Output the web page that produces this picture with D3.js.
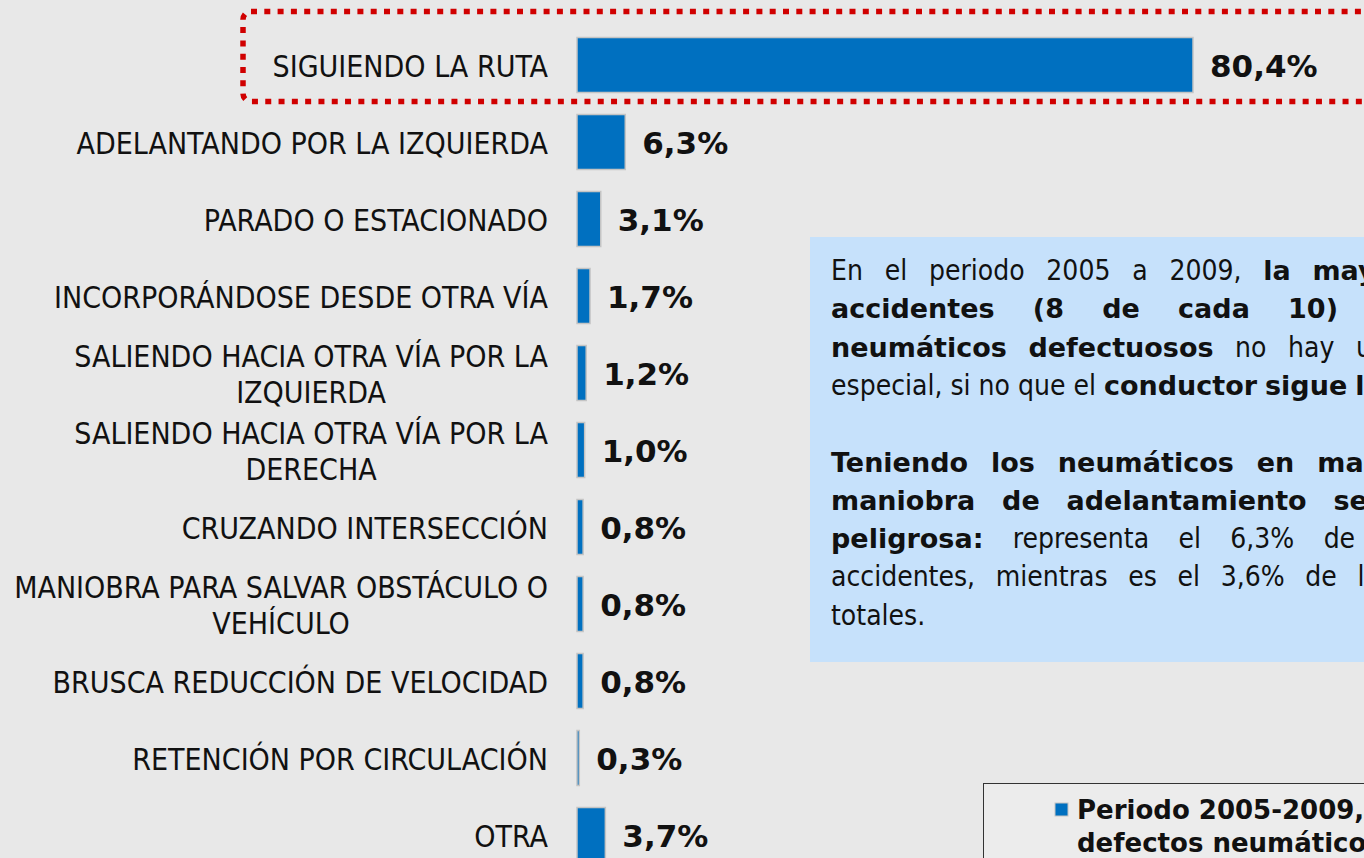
<!DOCTYPE html>
<html><head><meta charset="utf-8">
<script src="https://cdn.jsdelivr.net/npm/d3@7"></script>
<style>html,body{margin:0;padding:0;background:#e8e8e8;overflow:hidden}</style>
</head><body><svg id="c" width="1364" height="858"></svg>
<script>
// ---- data ----
const categories = [
  "SIGUIENDO LA RUTA",
  "ADELANTANDO POR LA IZQUIERDA",
  "PARADO O ESTACIONADO",
  "INCORPORÁNDOSE DESDE OTRA VÍA",
  "SALIENDO HACIA OTRA VÍA POR LA IZQUIERDA",
  "SALIENDO HACIA OTRA VÍA POR LA DERECHA",
  "CRUZANDO INTERSECCIÓN",
  "MANIOBRA PARA SALVAR OBSTÁCULO O VEHÍCULO",
  "BRUSCA REDUCCIÓN DE VELOCIDAD",
  "RETENCIÓN POR CIRCULACIÓN",
  "OTRA"
];
const values = [80.4, 6.3, 3.1, 1.7, 1.2, 1.0, 0.8, 0.8, 0.8, 0.3, 3.7];
const highlightedCategory = "SIGUIENDO LA RUTA";
const legendLines = ["Periodo 2005-2009, accidentes con", "defectos neumáticos"];
// note text: each line = list of [text, bold]; "end" lines are not justified
const noteLines = [
  {segs: [["En el periodo 2005 a 2009, ", 0], ["la mayoría de los", 1]], right: 1560},
  {segs: [["accidentes (8 de cada 10) con", 1]], right: 1430},
  {segs: [["neumáticos defectuosos", 1], [" no hay una maniobra", 0]], right: 1545},
  {segs: [["especial, si no que el ", 0], ["conductor sigue la ruta.", 1]], end: true},
  null,
  {segs: [["Teniendo los neumáticos en mal estado, la", 1]], right: 1560},
  {segs: [["maniobra de adelantamiento se vuelve", 1]], right: 1495},
  {segs: [["peligrosa:", 1], [" representa el 6,3% de los", 0]], right: 1420},
  {segs: [["accidentes, mientras es el 3,6% de los", 0]], right: 1393},
  {segs: [["totales.", 0]], end: true}
];

// ---- layout ----
const W = 1364, H = 858;
const svg = d3.select("#c");
svg.append("rect").attr("width", W).attr("height", H).attr("fill", "#e8e8e8");

const y = d3.scaleBand().domain(categories).range([26.5, 873.5]).paddingInner(0.286).paddingOuter(0.143);
const x = d3.scaleLinear().domain([0, 80.4]).range([577, 1193]);
const BLUE = "#0070c0";
const condFont = "'DejaVu Sans Condensed', 'DejaVu Sans', sans-serif";
const boldFont = "'DejaVu Sans', sans-serif";

// highlight dotted box
const hy = y(highlightedCategory);
svg.append("rect")
  .attr("x", 243).attr("y", hy - 26).attr("width", 1300).attr("height", y.bandwidth() + 35)
  .attr("rx", 8).attr("fill", "none").attr("stroke", "#d00000")
  .attr("stroke-width", 5.5).attr("stroke-dasharray", "6 7.3");

// bars
svg.append("g").selectAll("rect").data(values).join("rect")
  .attr("x", x(0)).attr("y", (d, i) => y(categories[i]))
  .attr("width", d => x(d) - x(0)).attr("height", y.bandwidth())
  .attr("fill", BLUE).attr("stroke", "#c4c4c4").attr("stroke-width", 1.5);

// value labels
const fmt = d => d3.format(".1f")(d).replace(".", ",") + "%";
svg.append("g").selectAll("text").data(values).join("text")
  .attr("x", d => x(d) + 17).attr("y", (d, i) => y(categories[i]) + y.bandwidth() / 2 + 1)
  .attr("dominant-baseline", "central")
  .attr("font-family", boldFont).attr("font-weight", "bold")
  .attr("font-size", 31).attr("fill", "#111").text(fmt);

// category labels (wrapped, centered block, right edge at 548)
const labelSize = 30;
const labelG = svg.append("g").attr("font-family", condFont).attr("font-size", labelSize).attr("fill", "#111");
const measurer = svg.append("text").attr("font-family", condFont).attr("font-size", labelSize).attr("visibility", "hidden");
function tw(t) { measurer.text(t); return measurer.node().getComputedTextLength(); }
const maxLabelW = 545, rightEdge = 548, lineH = 36;
categories.forEach(c => {
  const words = c.split(" ");
  const lines = []; let cur = "";
  words.forEach(w => {
    const test = cur ? cur + " " + w : w;
    if (tw(test) > maxLabelW && cur) { lines.push(cur); cur = w; } else cur = test;
  });
  lines.push(cur);
  const wMax = d3.max(lines, tw);
  const cx = rightEdge - wMax / 2;
  const cy = y(c) + y.bandwidth() / 2;
  lines.forEach((l, j) => {
    labelG.append("text").attr("x", cx).attr("text-anchor", "middle")
      .attr("y", cy + (j - (lines.length - 1) / 2) * lineH + 1)
      .attr("dominant-baseline", "central").text(l);
  });
});

// note box
const noteX = 810, noteY = 237, noteW = 700, noteH = 425;
svg.append("rect").attr("x", noteX).attr("y", noteY).attr("width", noteW).attr("height", noteH).attr("fill", "#c6e1fb");
const regSize = 28, boldSize = 27, textLeft = 831, noteLineH = 38.3, firstBase = 280;
const fontOf = b => b ? boldFont : condFont;
const sizeOf = b => b ? boldSize : regSize;
const nm = svg.append("text").attr("visibility", "hidden");
function nw(t, b) {
  nm.attr("font-family", fontOf(b)).attr("font-size", sizeOf(b)).attr("font-weight", b ? "bold" : "normal").text(t);
  return nm.node().getComputedTextLength();
}
const spaceW = nw("a a", 0) - 2 * nw("a", 0);
const noteG = svg.append("g").attr("fill", "#111");
noteLines.forEach((ln, i) => {
  if (!ln) return;
  const words = [];
  ln.segs.forEach(([t, b]) => t.split(" ").filter(s => s.length).forEach(s => words.push({t: s, b})));
  words.forEach(w => w.w = nw(w.t, w.b));
  const total = d3.sum(words, w => w.w);
  const gap = ln.end || words.length < 2 ? spaceW : (ln.right - textLeft - total) / (words.length - 1);
  let cx = textLeft;
  const by = firstBase + i * noteLineH;
  words.forEach(w => {
    noteG.append("text").attr("x", cx).attr("y", by)
      .attr("font-family", fontOf(w.b)).attr("font-size", sizeOf(w.b))
      .attr("font-weight", w.b ? "bold" : "normal").text(w.t);
    cx += w.w + gap;
  });
});

// legend
const lg = svg.append("g");
lg.append("rect").attr("x", 983.5).attr("y", 783.5).attr("width", 500).attr("height", 120)
  .attr("fill", "#ececec").attr("stroke", "#333").attr("stroke-width", 1);
lg.append("rect").attr("x", 1055).attr("y", 803).attr("width", 13).attr("height", 13)
  .attr("fill", BLUE).attr("stroke", "#c4c4c4").attr("stroke-width", 1);
legendLines.forEach((t, i) => {
  lg.append("text").attr("x", 1077).attr("y", 819 + i * 33)
    .attr("font-family", boldFont).attr("font-weight", "bold").attr("font-size", 26)
    .attr("fill", "#111").text(t);
});
</script></body></html>
